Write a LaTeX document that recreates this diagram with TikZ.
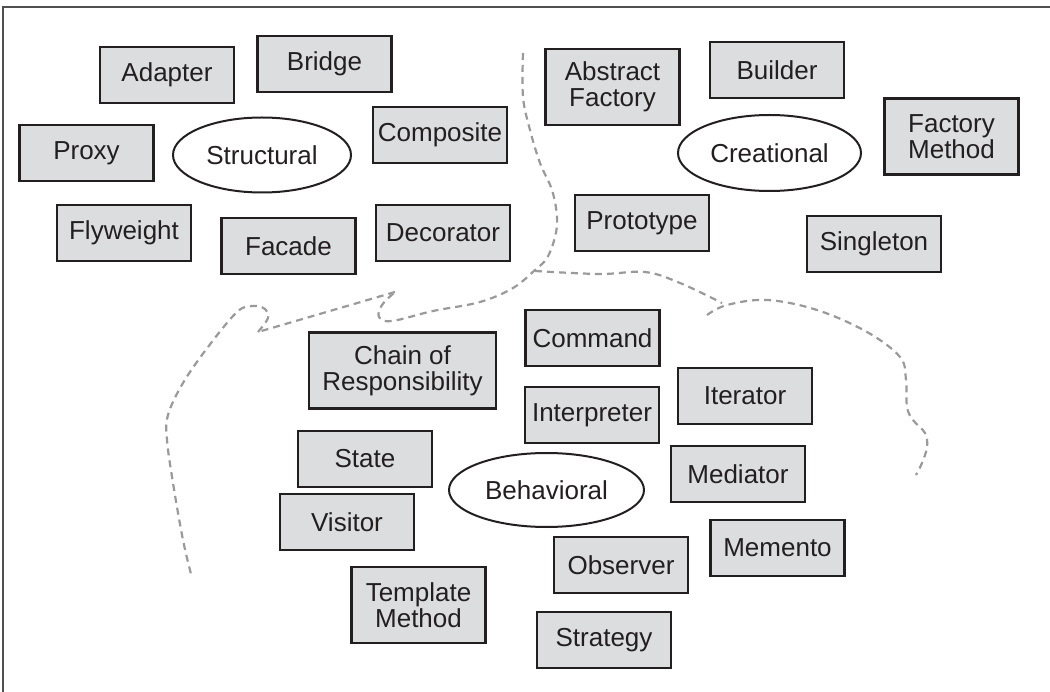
\documentclass[tikz,border=0pt]{standalone}
\usepackage{fontspec}
\setmainfont{Liberation Sans}
\usetikzlibrary{shapes.geometric}
\definecolor{boxfill}{HTML}{DCDDDF}
\definecolor{ink}{HTML}{231F20}
\definecolor{dashgray}{HTML}{9A9A9C}
\definecolor{framegray}{HTML}{505050}
\tikzset{
  pattern/.style={draw=ink, fill=boxfill, line width=2.3pt, minimum width=134pt,
    minimum height=56pt, inner sep=0pt, align=center, text=ink,
    font=\fontsize{26}{26}\selectfont},
  twoline/.style={pattern, minimum height=76pt},
  category/.style={ellipse, draw=ink, fill=white, line width=2pt, inner sep=0pt,
    text=ink, font=\fontsize{26}{26}\selectfont},
  boundary/.style={draw=dashgray, line width=2.2pt, dash pattern=on 7pt off 5pt},
  frameline/.style={draw=framegray, line width=2pt}
}
\begin{document}
\begin{tikzpicture}[x=1pt,y=-1pt]
\useasboundingbox (0,0) rectangle (1050,692);
\draw[frameline] (3,692) -- (3,7) -- (1050,7);

% Structural
\node[pattern] (adapter) at (167,75) {Adapter};
\node[pattern] (bridge) at (324.5,64) {Bridge};
\node[pattern] (composite) at (440,135) {Composite};
\node[pattern] (proxy) at (86.5,153) {Proxy};
\node[category, minimum width=178pt, minimum height=75pt] (structural) at (262,155) {Structural};
\node[pattern] (flyweight) at (124,233) {Flyweight};
\node[pattern] (facade) at (288.5,246) {Facade};
\node[pattern] (decorator) at (443,233) {Decorator};

% Creational
\node[twoline] (abstractfactory) at (612.5,87) {Abstract\\Factory};
\node[pattern] (builder) at (777,70) {Builder};
\node[twoline] (factorymethod) at (951.5,136.5) {Factory\\Method};
\node[category, minimum width=183pt, minimum height=76pt] (creational) at (769.5,153) {Creational};
\node[pattern] (prototype) at (642,223) {Prototype};
\node[pattern] (singleton) at (874,244) {Singleton};

% Behavioral
\node[twoline, minimum width=187pt] (chain) at (402.5,370.5) {Chain of\\Responsibility};
\node[pattern] (command) at (592.5,338) {Command};
\node[pattern] (interpreter) at (592,415) {Interpreter};
\node[pattern] (iterator) at (745,396) {Iterator};
\node[pattern] (state) at (365,459) {State};
\node[category, minimum width=195pt, minimum height=74pt] (behavioral) at (546.5,490) {Behavioral};
\node[pattern] (mediator) at (738,474) {Mediator};
\node[pattern] (visitor) at (347,522) {Visitor};
\node[pattern] (memento) at (777.5,548) {Memento};
\node[pattern] (observer) at (621,565) {Observer};
\node[twoline] (templatemethod) at (418.5,605) {Template\\Method};
\node[pattern] (strategy) at (604,640) {Strategy};

% Boundaries
\draw[boundary] plot[smooth, tension=0.6] coordinates {(523,53) (523,97) (530,130) (540,163) (552,190) (557,217) (555,237) (547,258) (535,270) (513,288) (480,302) (433,311) (392,321) (379,317) (382,305) (395,292)};
\draw[boundary] (395,292) -- (258,332);
\draw[boundary] plot[smooth, tension=0.6] coordinates {(258,332) (268,318) (265,309) (253,306) (237,312) (208,347) (183,383) (168,415) (167,440) (173,483) (183,540) (192,578)};
\draw[boundary] plot[smooth, tension=0.6] coordinates {(535,271) (600,274) (645,272) (680,283) (722,303)};
\draw[boundary] plot[smooth, tension=0.6] coordinates {(707,315) (727,305) (767,300) (817,310) (867,332) (900,357) (906,380) (907,407) (913,420) (925,433) (927,447) (922,463) (916,475)};
\end{tikzpicture}
\end{document}
